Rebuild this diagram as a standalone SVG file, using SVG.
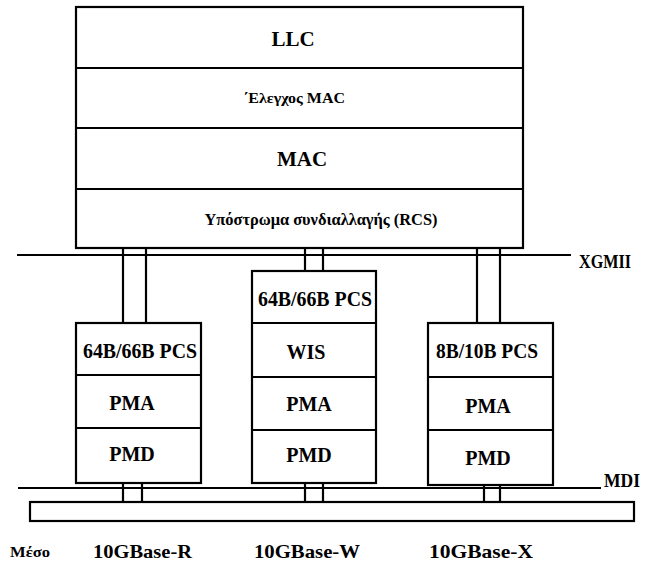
<svg xmlns="http://www.w3.org/2000/svg" width="646" height="568" viewBox="0 0 646 568">
<style>
.b{fill:#fff;stroke:#000;stroke-width:2.2}
.l{stroke:#000;stroke-width:2.2;fill:none}
text{font-family:'Liberation Serif','DejaVu Serif','Times New Roman',serif;font-weight:bold;fill:#000}
.t{text-anchor:middle;dominant-baseline:central}
</style>
<rect width="646" height="568" fill="#fff"/>
<g id="connectors">
<line class="l" x1="17" y1="255" x2="571" y2="255"/>
<line class="l" x1="123" y1="248" x2="123" y2="323"/>
<line class="l" x1="146" y1="248" x2="146" y2="323"/>
<line class="l" x1="305" y1="248" x2="305" y2="271"/>
<line class="l" x1="323" y1="248" x2="323" y2="271"/>
<line class="l" x1="477" y1="248" x2="477" y2="323"/>
<line class="l" x1="500" y1="248" x2="500" y2="323"/>
<line class="l" x1="18" y1="488" x2="601" y2="488"/>
<line class="l" x1="123" y1="483" x2="123" y2="502"/>
<line class="l" x1="142" y1="483" x2="142" y2="502"/>
<line class="l" x1="305" y1="483" x2="305" y2="502"/>
<line class="l" x1="323" y1="483" x2="323" y2="502"/>
<line class="l" x1="484" y1="485" x2="484" y2="502"/>
<line class="l" x1="500" y1="485" x2="500" y2="502"/>
</g>
<g id="mac-stack">
<rect class="b" x="76" y="7" width="447" height="241"/>
<line class="l" x1="76" y1="68" x2="523" y2="68"/>
<line class="l" x1="76" y1="128" x2="523" y2="128"/>
<line class="l" x1="76" y1="189" x2="523" y2="189"/>
<text class="t" x="293" y="39" font-size="21">LLC</text>
<text class="t" x="294" y="98" font-size="15" textLength="102" lengthAdjust="spacingAndGlyphs">΄Ελεγχος MAC</text>
<text class="t" x="302" y="159" font-size="21">MAC</text>
<text class="t" x="321" y="219" font-size="16" textLength="233" lengthAdjust="spacingAndGlyphs">Υπόστρωμα συνδιαλλαγής (RCS)</text>
</g>
<g id="stack-r">
<rect class="b" x="76" y="323" width="125" height="160"/>
<line class="l" x1="76" y1="375" x2="201" y2="375"/>
<line class="l" x1="76" y1="428" x2="201" y2="428"/>
<text class="t" x="140" y="351" font-size="20" textLength="114" lengthAdjust="spacingAndGlyphs">64B/66B PCS</text>
<text class="t" x="132" y="403" font-size="20">PMA</text>
<text class="t" x="132" y="454" font-size="20">PMD</text>
</g>
<g id="stack-w">
<rect class="b" x="252" y="271" width="124" height="212"/>
<line class="l" x1="252" y1="323" x2="376" y2="323"/>
<line class="l" x1="252" y1="377" x2="376" y2="377"/>
<line class="l" x1="252" y1="430" x2="376" y2="430"/>
<text class="t" x="315" y="299" font-size="20" textLength="114" lengthAdjust="spacingAndGlyphs">64B/66B PCS</text>
<text class="t" x="306" y="352" font-size="20">WIS</text>
<text class="t" x="309" y="404" font-size="20">PMA</text>
<text class="t" x="309" y="455" font-size="20">PMD</text>
</g>
<g id="stack-x">
<rect class="b" x="428" y="323" width="125" height="162"/>
<line class="l" x1="428" y1="377" x2="553" y2="377"/>
<line class="l" x1="428" y1="430" x2="553" y2="430"/>
<text class="t" x="487" y="351" font-size="20" textLength="102" lengthAdjust="spacingAndGlyphs">8B/10B PCS</text>
<text class="t" x="488" y="406" font-size="20">PMA</text>
<text class="t" x="488" y="458" font-size="20">PMD</text>
</g>
<g id="medium">
<rect class="b" x="30" y="502" width="604" height="19"/>
</g>
<g id="labels">
<text x="579" y="268" font-size="18" textLength="52" lengthAdjust="spacingAndGlyphs">XGMII</text>
<text x="604" y="487" font-size="18" textLength="36" lengthAdjust="spacingAndGlyphs">MDI</text>
<text x="10" y="557" font-size="14" textLength="40" lengthAdjust="spacingAndGlyphs">Μέσο</text>
<text x="93" y="558" font-size="19" textLength="99" lengthAdjust="spacingAndGlyphs">10GBase-R</text>
<text x="254" y="558" font-size="19" textLength="106" lengthAdjust="spacingAndGlyphs">10GBase-W</text>
<text x="429" y="558" font-size="19" textLength="104" lengthAdjust="spacingAndGlyphs">10GBase-X</text>
</g>
</svg>
